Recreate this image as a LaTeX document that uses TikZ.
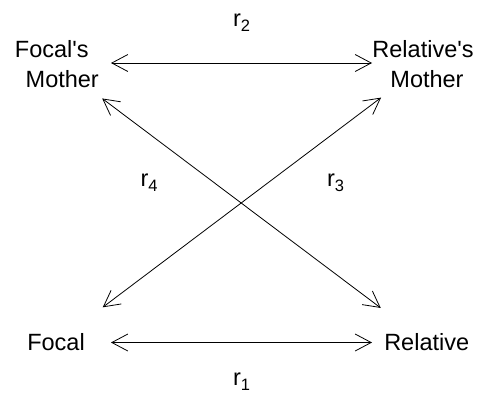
\documentclass[tikz,border=0pt]{standalone}
\usepackage{fontspec}
\setmainfont{Liberation Sans}
\usetikzlibrary{arrows.meta}
\newcommand\rsubidx[1]{\raisebox{-5pt}{\fontsize{16.5}{16.5}\selectfont #1}}
\begin{document}
\begin{tikzpicture}[x=1pt,y=-1pt,
  lbl/.style={inner sep=0pt, outer sep=0pt, font=\fontsize{23.5}{30}\selectfont, align=center},
  rlab/.style={inner sep=0pt, outer sep=0pt, anchor=base west, font=\fontsize{23.5}{30}\selectfont},
  barb/.tip={Straight Barb[length=16pt,width=17pt]},
  arr/.style={line width=0.8pt, barb-barb}]
\path[use as bounding box, fill=white] (0,0) rectangle (478,394);
\node[lbl] (fm) at (57,64.5) {Focal\textquotesingle s\hspace*{10.5pt}\\\hspace*{10.5pt}Mother};
\node[lbl] (rm) at (425,64.5) {Relative\textquotesingle s\hspace*{4pt}\\\hspace*{4pt}Mother};
\node[lbl] (f) at (56,342.5) {Focal};
\node[lbl] (r) at (426.7,342.5) {Relative};
\node[rlab] (r2) at (233,26) {r\rsubidx{2}};
\node[rlab] (r1) at (233,385.5) {r\rsubidx{1}};
\node[rlab] (r4) at (140.5,186) {r\rsubidx{4}};
\node[rlab] (r3) at (327,186) {r\rsubidx{3}};
\draw[arr, shorten <=54pt, shorten >=53pt] ([yshift=1.5pt]fm.center) -- ([yshift=1.5pt]rm.center);
\draw[arr, shorten <=55pt, shorten >=54.7pt] (f.center) -- (r.center);
\draw[arr, shorten <=56.5pt, shorten >=57.5pt] (fm.center) -- (r.center);
\draw[arr, shorten <=58.5pt, shorten >=55pt] (f.center) -- (rm.center);
\end{tikzpicture}
\end{document}
